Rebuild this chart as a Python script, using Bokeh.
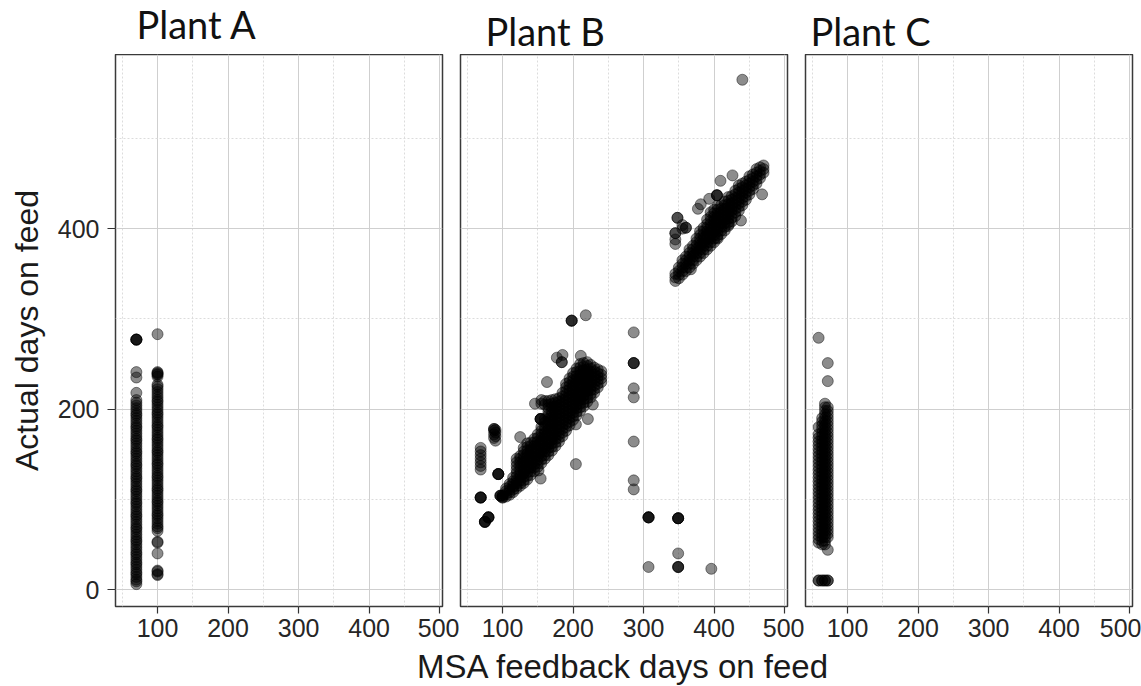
from bokeh.plotting import figure
from bokeh.layouts import row, column
from bokeh.models import FixedTicker, Range1d, Label
from bokeh.embed import file_html
from bokeh.resources import INLINE

# ---------------- data ----------------
panel_titles = ["Plant A", "Plant B", "Plant C"]
x_ticks = [100, 200, 300, 400, 500]
x_minor = [50, 150, 250, 350, 450]
y_ticks = [0, 200, 400]
y_minor = [100, 300, 500]
x_label = "MSA feedback days on feed"
y_label = "Actual days on feed"

# Plant A: MSA days (x) with the actual days (y) observed at each
plant_a_x = [70, 100]
plant_a_y = [
    [6, 9, 11, 14, 17, 19, 22, 25, 28, 30, 33, 36, 39, 41, 44, 47, 50, 53, 55, 58,
     61, 64, 67, 69, 72, 75, 78, 81, 83, 86, 89, 92, 95, 97, 100, 103, 106, 109,
     111, 114, 117, 120, 123, 125, 128, 131, 134, 137, 139, 142, 145, 148, 151,
     153, 156, 159, 162, 165, 167, 170, 173, 176, 179, 181, 184, 187, 190, 193,
     195, 198, 201, 204, 207, 210, 218, 235, 241, 277, 277, 277, 277],
    [16, 17, 20, 21, 40, 52, 53, 65, 68, 70, 73, 76, 79, 82, 84, 87, 90, 93, 96,
     98, 101, 104, 107, 110, 112, 115, 118, 121, 124, 126, 129, 132, 135, 138,
     140, 143, 146, 149, 152, 154, 157, 160, 163, 166, 168, 171, 174, 177, 180,
     182, 185, 188, 191, 194, 196, 199, 202, 205, 208, 210, 213, 216, 219, 222,
     225, 227, 236, 238, 239, 240, 241, 283],
]

# Plant B: clustered observations grouped by MSA days
plant_b_x = [69, 75, 80, 88, 90, 94, 97, 100, 105, 110, 115, 120, 125, 130, 135,
             140, 145, 150, 155, 160, 165, 170, 175, 180, 185, 190, 195, 200, 205,
             210, 215, 220, 225, 230, 235, 240,
             345, 350, 355, 360, 365, 370, 375, 380, 385, 390, 395, 400, 405, 410,
             415, 420, 425, 430, 435, 440, 445, 450, 455, 460, 465, 470]
plant_b_y = [
    [133, 137, 141, 145, 149, 153, 157, 102, 102, 102, 102],
    [75, 75, 75, 75],
    [80, 80, 80, 80],
    [168, 172, 176, 178, 178],
    [165, 170, 174, 177],
    [128, 128, 128, 128],
    [104, 104, 104],
    [102, 102, 104, 104],
    [103, 106, 109, 112],
    [105, 108, 111, 114, 117],
    [108, 111, 114, 117, 120, 124],
    [112, 115, 118, 121, 125, 129, 133, 137, 141, 145],
    [115, 118, 121, 125, 129, 133, 137, 141, 145, 148],
    [118, 121, 125, 129, 133, 137, 141, 145, 149, 153, 157],
    [122, 126, 130, 134, 138, 142, 146, 150, 154, 158, 162],
    [127, 131, 135, 139, 143, 147, 151, 155, 159, 163],
    [131, 135, 139, 143, 147, 151, 155, 159, 163, 167],
    [136, 140, 144, 148, 152, 156, 160, 164, 168, 172],
    [140, 144, 148, 152, 156, 160, 164, 168, 172, 176, 180, 206, 210],
    [145, 149, 153, 157, 161, 165, 169, 173, 177, 181, 185, 189, 205, 209],
    [149, 153, 157, 161, 165, 169, 173, 177, 181, 185, 189, 193, 197, 201, 205, 209],
    [154, 158, 162, 166, 170, 174, 178, 182, 186, 190, 194, 198, 202, 206, 210],
    [159, 163, 167, 171, 175, 179, 183, 187, 191, 195, 199, 203, 207, 211],
    [164, 168, 172, 176, 180, 184, 188, 192, 196, 200, 204, 208, 212],
    [170, 174, 178, 182, 186, 190, 194, 198, 202, 206, 210, 214, 218],
    [176, 180, 184, 188, 192, 196, 200, 204, 208, 212, 216, 220, 224, 228],
    [182, 186, 190, 194, 198, 202, 206, 210, 214, 218, 222, 226, 230, 234],
    [188, 192, 196, 200, 204, 208, 212, 216, 220, 224, 228, 232, 236, 240],
    [193, 197, 201, 205, 209, 213, 217, 221, 225, 229, 233, 237, 241, 245],
    [198, 202, 206, 210, 214, 218, 222, 226, 230, 234, 238, 242, 246, 250],
    [203, 207, 211, 215, 219, 223, 227, 231, 235, 239, 243, 247, 251],
    [208, 212, 216, 220, 224, 228, 232, 236, 240, 244, 248, 252],
    [213, 217, 221, 225, 229, 233, 237, 241, 245, 249],
    [218, 222, 226, 230, 234, 238, 242, 246],
    [224, 228, 232, 236, 240, 244],
    [230, 234, 238, 242],
    [342, 346, 350, 383, 388, 395, 395],
    [345, 349, 353, 357],
    [349, 353, 357, 361, 365, 400, 404],
    [353, 357, 361, 365, 369, 401, 401],
    [357, 361, 365, 369, 373, 377],
    [361, 365, 369, 373, 377, 381],
    [365, 369, 373, 377, 381, 385, 389],
    [369, 373, 377, 381, 385, 389, 393, 397],
    [373, 377, 381, 385, 389, 393, 397, 401],
    [377, 381, 385, 389, 393, 397, 401, 405, 410],
    [381, 385, 389, 393, 397, 401, 405, 409, 413, 418],
    [385, 389, 393, 397, 401, 405, 409, 413, 417, 421],
    [389, 393, 397, 401, 405, 409, 413, 417, 421, 425],
    [394, 398, 402, 406, 410, 414, 418, 422, 426],
    [398, 402, 406, 410, 414, 418, 422, 426, 430],
    [403, 407, 411, 415, 419, 423, 427, 431, 435],
    [408, 412, 416, 420, 424, 428, 432, 436],
    [414, 418, 422, 426, 430, 434, 438, 442],
    [420, 424, 428, 432, 436, 440, 444, 448],
    [426, 430, 434, 438, 442, 446, 450],
    [432, 436, 440, 444, 448, 452],
    [438, 442, 446, 450, 454, 458],
    [444, 448, 452, 456, 460],
    [450, 454, 458, 462, 466],
    [456, 460, 464, 468],
    [462, 466, 470],
]
# Plant B: individual (scattered) observations
plant_b_px = [125, 146, 163, 177, 185, 184, 184, 211, 204, 221, 228, 204, 151, 154,
              154, 154, 154, 154, 198, 198, 198, 218,
              286, 286, 286, 286, 286, 286, 286, 286, 286,
              307, 307, 307, 307, 349, 349, 349, 349, 349, 349, 349, 349, 307, 396,
              440, 409, 426, 393, 381, 377, 468, 438, 421, 404, 367, 348, 348,
              404, 404, 404]
plant_b_py = [169, 206, 230, 257, 260, 252, 252, 259, 183, 189, 205, 139, 132, 123,
              189, 189, 189, 189, 298, 298, 298, 304,
              285, 251, 251, 251, 223, 213, 164, 121, 111,
              80, 80, 80, 80, 79, 79, 79, 79, 40, 25, 25, 25, 25, 23,
              565, 453, 459, 433, 427, 422, 438, 409, 405, 390, 355, 412, 412,
              437, 437, 437]

# Plant C
plant_c_x = [59, 64, 68, 72]
plant_c_y = [
    [10, 10, 52, 56, 60, 64, 68, 72, 76, 80, 84, 88, 92, 96, 100, 104, 108, 112,
     116, 120, 124, 128, 132, 136, 140, 144, 148, 152, 156, 160, 164, 168, 172,
     180, 279],
    [10, 10, 50, 54, 58, 62, 66, 70, 74, 78, 82, 86, 90, 94, 98, 102, 106, 110,
     114, 118, 122, 126, 130, 134, 138, 142, 146, 150, 154, 158, 162, 166, 170,
     174, 178, 182, 186, 190],
    [10, 10, 50, 54, 58, 62, 66, 70, 74, 78, 82, 86, 90, 94, 98, 102, 106, 110,
     114, 118, 122, 126, 130, 134, 138, 142, 146, 150, 154, 158, 162, 166, 170,
     174, 178, 182, 186, 190, 194, 198, 202, 206],
    [10, 10, 44, 58, 62, 66, 70, 74, 78, 82, 86, 90, 94, 98, 102, 106, 110, 114,
     118, 122, 126, 130, 134, 138, 142, 146, 150, 154, 158, 162, 166, 170, 174,
     178, 182, 186, 190, 194, 198, 202, 231, 251],
]


def flatten(xs, groups):
    fx, fy = [], []
    for x, ys in zip(xs, groups):
        fx += [x] * len(ys)
        fy += list(ys)
    return fx, fy


FONT = "Liberation Sans"
BOTTOM = 41


def panel(left, right, show_y):
    p = figure(frame_width=327, frame_height=552,
               x_range=Range1d(40.4, 504), y_range=Range1d(-18.8, 593),
               output_backend="svg", toolbar_location=None, title=None,
               y_axis_location="left" if show_y else None,
               min_border_left=left, min_border_right=right,
               min_border_top=0, min_border_bottom=BOTTOM,
               background_fill_color="white", border_fill_color="white")
    p.outline_line_color = "#3a3a3a"
    p.outline_line_width = 1.5
    p.xgrid.ticker = FixedTicker(ticks=x_ticks, minor_ticks=x_minor)
    p.ygrid.ticker = FixedTicker(ticks=y_ticks, minor_ticks=y_minor)
    for g in (p.xgrid, p.ygrid):
        g.grid_line_color = "#cfcfcf"
        g.grid_line_width = 1
        g.minor_grid_line_color = "#dcdcdc"
        g.minor_grid_line_dash = "2 2"
    axes = list(p.xaxis) + (list(p.yaxis) if show_y else [])
    for ax in axes:
        ax.axis_line_color = None
        ax.major_tick_in = 0
        ax.major_tick_out = 7
        ax.major_tick_line_color = "#333333"
        ax.major_tick_line_width = 1.2
        ax.minor_tick_line_color = None
        ax.major_label_text_font = FONT
        ax.major_label_text_font_size = "25px"
        ax.major_label_text_color = "#262626"
        ax.major_label_standoff = 5
    p.xaxis.ticker = FixedTicker(ticks=x_ticks)
    if show_y:
        p.yaxis.ticker = FixedTicker(ticks=y_ticks)
        p.yaxis.major_tick_out = 8
        p.yaxis.major_label_standoff = 8
        p.yaxis.axis_label = y_label
        p.yaxis.axis_label_text_font = FONT
        p.yaxis.axis_label_text_font_size = "32px"
        p.yaxis.axis_label_text_font_style = "normal"
        p.yaxis.axis_label_text_color = "#1a1a1a"
        p.yaxis.axis_label_standoff = 10
    return p


def dots(p, xs, ys):
    p.scatter(x=xs, y=ys, marker="circle", size=11, fill_color="black",
              fill_alpha=0.45, line_color="black", line_alpha=0.45, line_width=1)


def strip(height):
    s = figure(width=1141, height=height, x_range=Range1d(0, 1141),
               y_range=Range1d(0, height), output_backend="svg",
               toolbar_location=None, title=None,
               x_axis_location=None, y_axis_location=None,
               min_border_left=0, min_border_right=0, min_border_top=0,
               min_border_bottom=0, outline_line_color=None)
    s.xgrid.visible = False
    s.ygrid.visible = False
    return s


pa = panel(115, 17, True)
pb = panel(1, 17, False)
pc = panel(1, 9, False)

dots(pa, *flatten(plant_a_x, plant_a_y))
dots(pb, *flatten(plant_b_x, plant_b_y))
dots(pb, plant_b_px, plant_b_py)
dots(pc, *flatten(plant_c_x, plant_c_y))

# panel titles (strip above the panels)
top = strip(54)
for txt, tx, ty in zip(panel_titles, [136, 485, 810], [31, 24, 24]):
    top.add_layout(Label(x=tx, y=ty, text=txt, text_align="left",
                         text_baseline="alphabetic", text_font="Lato",
                         text_font_size="38px", text_color="#111111"))

# shared x-axis title (strip below the panels)
bottom_h = 686 - 54 - 552 - BOTTOM
lab = strip(bottom_h)
lab.add_layout(Label(x=623, y=20, text=x_label, text_align="center",
                     text_baseline="alphabetic", text_font=FONT,
                     text_font_size="33px", text_color="#1a1a1a"))

layout = column(top, row(pa, pb, pc), lab)
open("out.html", "w").write(file_html(layout, INLINE))
